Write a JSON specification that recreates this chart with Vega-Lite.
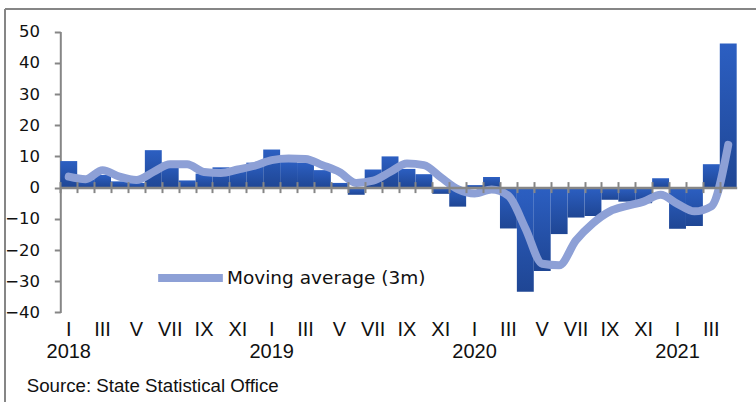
{
  "$schema": "https://vega.github.io/schema/vega-lite/v6.json",
  "width": 751,
  "height": 393,
  "autosize": {"type": "none"},
  "padding": {"left": 5, "top": 9, "right": 0, "bottom": 0},
  "data": {
    "values": [
      {"m": "2018-01", "v": 8.5, "ma": 3.5},
      {"m": "2018-02", "v": 2.5, "ma": 2.7},
      {"m": "2018-03", "v": 4.0, "ma": 5.6},
      {"m": "2018-04", "v": 2.0, "ma": 3.5},
      {"m": "2018-05", "v": 1.5, "ma": 2.4},
      {"m": "2018-06", "v": 12.0, "ma": 5.0},
      {"m": "2018-07", "v": 8.0, "ma": 7.5},
      {"m": "2018-08", "v": 2.3, "ma": 7.5},
      {"m": "2018-09", "v": 4.5, "ma": 5.0},
      {"m": "2018-10", "v": 6.5, "ma": 4.7},
      {"m": "2018-11", "v": 6.3, "ma": 5.8},
      {"m": "2018-12", "v": 8.0, "ma": 7.0},
      {"m": "2019-01", "v": 12.2, "ma": 8.8},
      {"m": "2019-02", "v": 8.5, "ma": 9.3},
      {"m": "2019-03", "v": 8.0, "ma": 9.2},
      {"m": "2019-04", "v": 5.6, "ma": 7.2},
      {"m": "2019-05", "v": 1.5, "ma": 5.0},
      {"m": "2019-06", "v": -2.3, "ma": 1.5},
      {"m": "2019-07", "v": 5.8, "ma": 2.2},
      {"m": "2019-08", "v": 10.0, "ma": 5.0},
      {"m": "2019-09", "v": 6.0, "ma": 7.7},
      {"m": "2019-10", "v": 4.3, "ma": 7.2},
      {"m": "2019-11", "v": -2.0, "ma": 3.3},
      {"m": "2019-12", "v": -6.1, "ma": -0.5},
      {"m": "2020-01", "v": 0.8, "ma": -1.9},
      {"m": "2020-02", "v": 3.4, "ma": -0.6},
      {"m": "2020-03", "v": -13.1, "ma": -2.6},
      {"m": "2020-04", "v": -33.4, "ma": -13.0},
      {"m": "2020-05", "v": -26.7, "ma": -24.4},
      {"m": "2020-06", "v": -14.9, "ma": -24.9},
      {"m": "2020-07", "v": -9.6, "ma": -16.9},
      {"m": "2020-08", "v": -9.1, "ma": -11.4},
      {"m": "2020-09", "v": -3.9, "ma": -7.6},
      {"m": "2020-10", "v": -4.5, "ma": -5.9},
      {"m": "2020-11", "v": -5.0, "ma": -4.5},
      {"m": "2020-12", "v": 3.0, "ma": -2.3},
      {"m": "2021-01", "v": -13.2, "ma": -5.2},
      {"m": "2021-02", "v": -12.3, "ma": -7.6},
      {"m": "2021-03", "v": 7.5, "ma": -6.0},
      {"m": "2021-04", "v": 46.2, "ma": 13.7}
    ]
  },
  "title": {
    "text": "Source: State Statistical Office",
    "orient": "bottom",
    "anchor": "start",
    "frame": "group",
    "offset": -10.3,
    "dx": 21.7,
    "baseline": "alphabetic",
    "font": "Liberation Sans",
    "fontSize": 18.7,
    "fontWeight": "normal",
    "color": "#111111"
  },
  "layer": [
    {
      "mark": {
        "type": "bar",
        "fill": {
          "gradient": "linear",
          "x1": 0, "y1": 0, "x2": 0, "y2": 1,
          "stops": [
            {"offset": 0, "color": "#2c5fc2"},
            {"offset": 1, "color": "#1f4694"}
          ]
        }
      },
      "encoding": {
        "x": {
          "field": "m",
          "type": "ordinal",
          "scale": {"type": "band", "range": [55.3, 731.7], "paddingInner": 0, "paddingOuter": 0},
          "axis": {
            "orient": "bottom",
            "offset": -214.4,
            "zindex": 1,
            "title": null,
            "domain": true,
            "domainColor": "#868686",
            "domainWidth": 2.5,
            "ticks": false,
            "tickSize": 0,
            "labelPadding": 131.6,
            "labelAngle": 0,
            "labelOverlap": false,
            "labelFont": "Liberation Sans",
            "labelFontSize": 20,
            "labelLineHeight": 22,
            "labelColor": "#111111",
            "labelExpr": "[['I','','III','','V','','VII','','IX','','XI',''][toNumber(substring(datum.value,5,7))-1], substring(datum.value,5,7) == '01' ? substring(datum.value,0,4) : '']"
          }
        },
        "y": {
          "field": "v",
          "type": "quantitative",
          "scale": {"domain": [-40, 50], "range": [303.4, 22.6], "nice": false, "zero": false},
          "axis": {
            "orient": "left",
            "offset": -55.3,
            "title": null,
            "grid": false,
            "values": [-40, -30, -20, -10, 0, 10, 20, 30, 40, 50],
            "domainColor": "#868686",
            "domainWidth": 2,
            "tickColor": "#868686",
            "tickWidth": 2,
            "tickSize": 6,
            "labelPadding": 14.8,
            "labelFont": "DejaVu Sans",
            "labelFontSize": 16.5,
            "labelColor": "#111111"
          }
        }
      }
    },
    {
      "mark": {"type": "line", "strokeWidth": 8, "strokeCap": "round", "strokeJoin": "round", "interpolate": "monotone"},
      "encoding": {
        "x": {
          "field": "m",
          "type": "ordinal",
          "scale": {"type": "band", "range": [55.3, 731.7], "paddingInner": 0, "paddingOuter": 0},
          "axis": {
            "orient": "bottom",
            "offset": -220.4,
            "zindex": 1,
            "title": null,
            "domain": false,
            "grid": false,
            "ticks": true,
            "tickOffset": -8.455,
            "tickSize": 11,
            "tickWidth": 2,
            "tickColor": "#868686",
            "labelOpacity": 0,
            "labelFontSize": 1
          }
        },
        "y": {"field": "ma", "type": "quantitative"},
        "color": {
          "datum": "Moving average (3m)",
          "type": "nominal",
          "scale": {"range": ["#8da0d6"]},
          "legend": {
            "orient": "none",
            "legendX": 149,
            "legendY": 232.6,
            "title": null,
            "padding": 0,
            "symbolType": "stroke",
            "symbolSize": 4186,
            "symbolStrokeWidth": 8,
            "labelOffset": 0,
            "labelFont": "DejaVu Sans",
            "labelFontSize": 18.5,
            "labelColor": "#111111",
            "labelLimit": 400
          }
        }
      }
    }
  ],
  "resolve": {"scale": {"x": "independent"}, "axis": {"x": "independent"}},
  "config": {
    "view": {"stroke": "#868686", "strokeWidth": 2, "strokeDash": [751, 1144, 393, 0]},
    "background": "#ffffff"
  }
}
